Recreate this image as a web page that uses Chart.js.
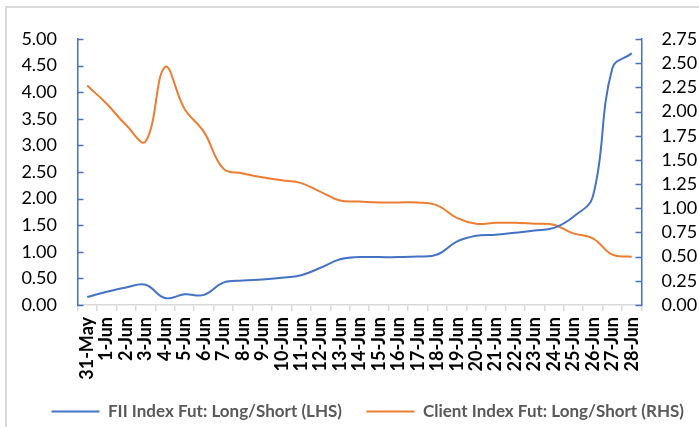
<!DOCTYPE html>
<html>
<head>
<meta charset="utf-8">
<script src="https://cdn.jsdelivr.net/npm/chart.js@4.4.1/dist/chart.umd.min.js"></script>
<style>
  html, body { margin: 0; padding: 0; background: #ffffff; }
  #wrap { width: 699px; height: 427px; }
</style>
</head>
<body>
<div id="wrap"><canvas id="c" width="699" height="427"></canvas></div>
<script>
// ---- data ----
const categories = ['31-May','1-Jun','2-Jun','3-Jun','4-Jun','5-Jun','6-Jun','7-Jun','8-Jun','9-Jun',
  '10-Jun','11-Jun','12-Jun','13-Jun','14-Jun','15-Jun','16-Jun','17-Jun','18-Jun','19-Jun',
  '20-Jun','21-Jun','22-Jun','23-Jun','24-Jun','25-Jun','26-Jun','27-Jun','28-Jun'];

const fiiLongShort = [0.15,0.25,0.33,0.38,0.13,0.20,0.19,0.42,0.46,0.48,
  0.51,0.56,0.70,0.86,0.90,0.90,0.90,0.91,0.95,1.19,
  1.30,1.32,1.36,1.40,1.45,1.66,2.04,4.45,4.73];

const clientLongShort = [2.27,2.08,1.86,1.69,2.46,2.03,1.79,1.41,1.36,1.32,
  1.29,1.26,1.17,1.08,1.07,1.06,1.06,1.06,1.03,0.90,
  0.84,0.85,0.85,0.84,0.83,0.74,0.69,0.52,0.50];

const seriesNames = ['FII Index Fut: Long/Short (LHS)', 'Client Index Fut: Long/Short (RHS)'];
const leftAxis = { min: 0, max: 5, step: 0.5 };
const rightAxis = { min: 0, max: 2.75, step: 0.25 };

const BLUE = '#4472C4';
const ORANGE = '#ED7D31';
const GRAY = '#D9D9D9';

const framePlugin = {
  id: 'frame',
  beforeDraw(chart) {
    const ctx = chart.ctx;
    ctx.save();
    ctx.fillStyle = '#ffffff';
    ctx.fillRect(0, 0, chart.width, chart.height);
    ctx.strokeStyle = GRAY;
    ctx.lineWidth = 2;
    ctx.beginPath();
    ctx.moveTo(6, chart.height);
    ctx.lineTo(6, 7);
    ctx.lineTo(chart.width, 7);
    ctx.stroke();
    ctx.restore();
  }
};

// move the legend box to where the reference places it
const legendPlacePlugin = {
  id: 'legendPlace',
  afterLayout(chart) {
    const lg = chart.legend;
    if (!lg) return;
    const dx = 27, dy = -4.5;
    lg.left += dx; lg.right += dx;
    lg.top += dy; lg.bottom += dy;
  }
};

const innerTicksPlugin = {
  id: 'innerTicks',
  afterDatasetsDraw(chart) {
    const ctx = chart.ctx;
    ctx.save();
    ctx.strokeStyle = BLUE;
    ctx.lineWidth = 1.5;
    ['y', 'y1'].forEach(id => {
      const s = chart.scales[id];
      const isLeft = s.position === 'left';
      const x0 = isLeft ? s.right : s.left;
      const x1 = isLeft ? x0 + 6 : x0 - 6;
      s.ticks.forEach(t => {
        const y = Math.round(s.getPixelForValue(t.value)) + 0.5;
        ctx.beginPath();
        ctx.moveTo(x0, y);
        ctx.lineTo(x1, y);
        ctx.stroke();
      });
    });
    ctx.restore();
  }
};

new Chart(document.getElementById('c'), {
  type: 'line',
  data: {
    labels: categories,
    datasets: [
      {
        label: seriesNames[0],
        data: fiiLongShort,
        yAxisID: 'y',
        borderColor: BLUE,
        backgroundColor: BLUE,
        borderWidth: 2,
        pointRadius: 0,
        tension: 0.4,
        fill: false
      },
      {
        label: seriesNames[1],
        data: clientLongShort,
        yAxisID: 'y1',
        borderColor: ORANGE,
        backgroundColor: ORANGE,
        borderWidth: 2,
        pointRadius: 0,
        tension: 0.4,
        fill: false
      }
    ]
  },
  options: {
    responsive: false,
    animation: false,
    devicePixelRatio: 1,
    layout: { padding: { left: 0, right: 0, top: 39, bottom: -7.5 } },
    plugins: {
      tooltip: { enabled: false },
      legend: {
        position: 'bottom',
        align: 'start',
        labels: {
          usePointStyle: true,
          pointStyle: 'line',
          pointStyleWidth: 48,
          boxHeight: 17,
          padding: 24.5,
          color: '#595959',
          font: { family: 'Lato', size: 17, weight: 'bold' }
        }
      }
    },
    scales: {
      x: {
        type: 'category',
        offset: true,
        grid: { display: true, drawOnChartArea: false, offset: true, color: GRAY, lineWidth: 1.5, tickLength: 6 },
        border: { display: true, color: GRAY, width: 1.5 },
        ticks: {
          autoSkip: false,
          minRotation: 90,
          maxRotation: 90,
          padding: 6,
          color: '#000000',
          font: { family: 'Lato', size: 18, weight: 'bold' }
        },
        afterFit(scale) { scale.height = 78; }
      },
      y: {
        position: 'left',
        min: leftAxis.min,
        max: leftAxis.max,
        grid: { display: true, drawOnChartArea: false, drawTicks: false },
        border: { display: true, color: BLUE, width: 1.5 },
        ticks: {
          autoSkip: false,
          stepSize: leftAxis.step,
          padding: 20.5,
          color: '#000000',
          font: { family: 'Lato', size: 18 },
          callback: v => Number(v).toFixed(2)
        },
        afterFit(scale) { scale.width = 77.5; }
      },
      y1: {
        position: 'right',
        min: rightAxis.min,
        max: rightAxis.max,
        grid: { display: true, drawOnChartArea: false, drawTicks: false },
        border: { display: true, color: BLUE, width: 1.5 },
        ticks: {
          autoSkip: false,
          stepSize: rightAxis.step,
          padding: 20,
          color: '#000000',
          font: { family: 'Lato', size: 18 },
          callback: v => Number(v).toFixed(2)
        },
        afterFit(scale) { scale.width = 57.5; }
      }
    }
  },
  plugins: [framePlugin, legendPlacePlugin, innerTicksPlugin]
});
</script>
</body>
</html>
